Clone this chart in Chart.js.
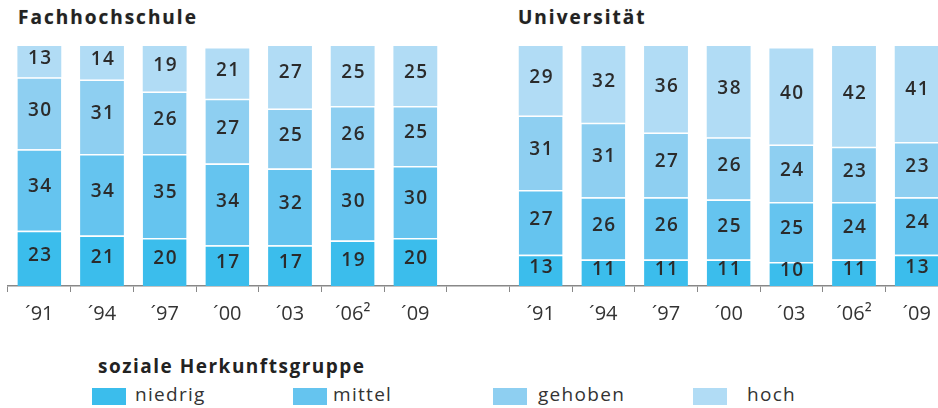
<!DOCTYPE html>
<html>
<head>
<meta charset="utf-8">
<script src="https://cdn.jsdelivr.net/npm/chart.js@4"></script>
<style>
  body { margin: 0; width: 938px; height: 408px; overflow: hidden; background: #fff; font-family: "Open Sans", sans-serif; position: relative; }
  #wrap { position: absolute; left: 0; top: 0; width: 960px; height: 344px; }
  .title { position: absolute; top: 4px; font-weight: bold; font-size: 19px; letter-spacing: 2px; color: #222; text-shadow: 0 0 1px rgba(0,0,0,0.3); }
  #legendTitle { position: absolute; left: 98px; top: 353px; font-weight: bold; font-size: 19px; letter-spacing: 1.5px; color: #222; }
  #legend { position: absolute; left: 0; top: 381px; }
  .item { position: absolute; top: 0; white-space: nowrap; font-size: 19px; letter-spacing: 1.3px; color: #333; }
  .box { position: absolute; top: 7px; width: 34px; height: 17px; }
</style>
</head>
<body>
<div class="title" style="left:18px">Fachhochschule</div>
<div class="title" style="left:518px">Universität</div>
<div id="wrap"><canvas id="chart"></canvas></div>
<div id="legendTitle">soziale Herkunftsgruppe</div>
<div id="legend"></div>
<script>
const years = ['´91', '´94', '´97', '´00', '´03', '´06²', '´09'];
const groups = ['niedrig', 'mittel', 'gehoben', 'hoch'];
const colors = ['#3bbdec', '#65c4ef', '#8ecff1', '#b1dcf5'];

// Fachhochschule
const fhNiedrig = [23, 21, 20, 17, 17, 19, 20];
const fhMittel = [34, 34, 35, 34, 32, 30, 30];
const fhGehoben = [30, 31, 26, 27, 25, 26, 25];
const fhHoch = [13, 14, 19, 21, 27, 25, 25];

// Universität
const uniNiedrig = [13, 11, 11, 11, 10, 11, 13];
const uniMittel = [27, 26, 26, 25, 25, 24, 24];
const uniGehoben = [31, 31, 27, 26, 24, 23, 23];
const uniHoch = [29, 32, 36, 38, 40, 42, 41];

// one empty slot between the two blocks
const labels = [...years, '', ...years];
const fh = [fhNiedrig, fhMittel, fhGehoben, fhHoch];
const uni = [uniNiedrig, uniMittel, uniGehoben, uniHoch];

const valueLabels = {
  id: 'valueLabels',
  afterDatasetsDraw(chart) {
    const ctx = chart.ctx;
    ctx.save();
    ctx.font = '600 19px "Open Sans"';
    ctx.fillStyle = '#2b2b2b';
    ctx.textAlign = 'center';
    ctx.textBaseline = 'middle';
    ctx.letterSpacing = '1.5px';
    chart.data.datasets.forEach((ds, i) => {
      chart.getDatasetMeta(i).data.forEach((bar, j) => {
        const v = ds.data[j];
        if (v == null) return;
        ctx.fillText(v, bar.x + 1, (bar.y + bar.base) / 2 - 3);
      });
    });
    ctx.restore();
  }
};

const ctx = document.getElementById('chart').getContext('2d');
const chart = new Chart(ctx, {
  type: 'bar',
  data: {
    labels: labels,
    datasets: groups.map((g, i) => ({
      label: g,
      data: [...fh[i], null, ...uni[i]],
      backgroundColor: colors[i],
      borderColor: 'rgba(255,255,255,0.55)',
      borderWidth: { top: i === 3 ? 0 : 1.5, left: 0, right: 0, bottom: 0 },
      borderSkipped: false,
      barPercentage: 0.7,
      categoryPercentage: 1
    }))
  },
  options: {
    responsive: true,
    maintainAspectRatio: false,
    animation: false,
    layout: { padding: { left: 8, right: 12, top: 46, bottom: 8 } },
    plugins: { legend: { display: false }, tooltip: { enabled: false } },
    scales: {
      x: {
        stacked: true,
        grid: { display: true, offset: true, drawOnChartArea: false, drawTicks: true, tickLength: 6, color: '#888' },
        border: { display: true, color: '#888', width: 1.5 },
        ticks: { color: '#333', font: { family: 'Open Sans', size: 20, weight: '500' }, padding: 10, maxRotation: 0, autoSkip: false }
      },
      y: { stacked: true, display: false, min: 0, max: 100 }
    }
  },
  plugins: [valueLabels]
});

const legendX = [92, 293, 493, 693];
const legendTextX = [135, 333, 538, 747];
const legend = document.getElementById('legend');
groups.forEach((g, i) => {
  const box = document.createElement('div');
  box.className = 'box';
  box.style.left = legendX[i] + 'px';
  box.style.background = colors[i];
  const t = document.createElement('div');
  t.className = 'item';
  t.style.left = legendTextX[i] + 'px';
  t.textContent = g;
  legend.appendChild(box);
  legend.appendChild(t);
});
</script>
</body>
</html>
